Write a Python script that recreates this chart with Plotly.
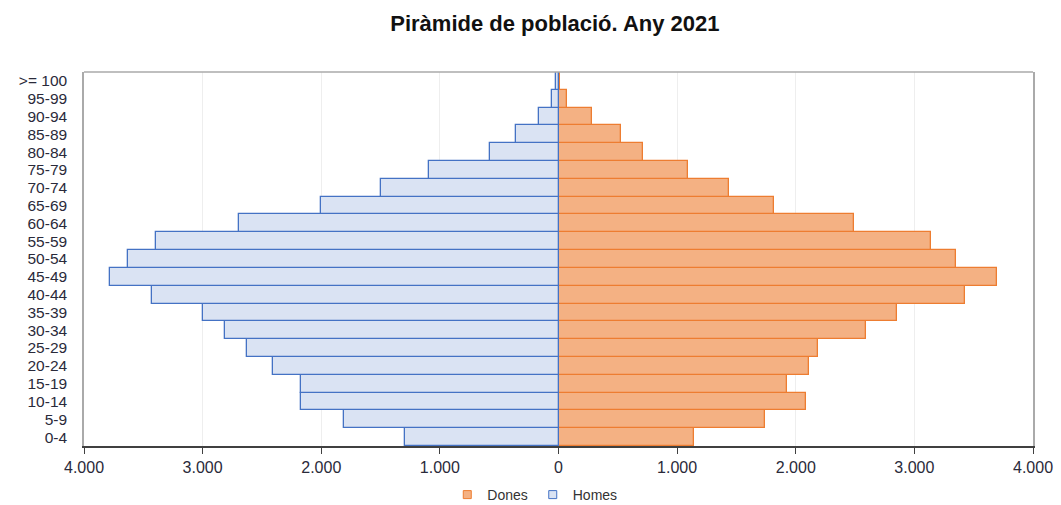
import plotly.graph_objects as go

age_groups = ["0-4", "5-9", "10-14", "15-19", "20-24", "25-29", "30-34", "35-39",
              "40-44", "45-49", "50-54", "55-59", "60-64", "65-69", "70-74", "75-79",
              "80-84", "85-89", "90-94", "95-99", ">= 100"]
homes = [1290, 1810, 2170, 2170, 2410, 2630, 2810, 3000, 3430, 3780, 3630, 3390,
         2690, 2000, 1500, 1090, 580, 360, 165, 55, 18]
dones = [1140, 1740, 2090, 1930, 2110, 2190, 2590, 2850, 3430, 3700, 3350, 3140,
         2490, 1820, 1440, 1090, 710, 530, 285, 72, 15]
tick_vals = [-4000, -3000, -2000, -1000, 0, 1000, 2000, 3000, 4000]
tick_text = ["4.000", "3.000", "2.000", "1.000", "0", "1.000", "2.000", "3.000", "4.000"]

FONT = "Liberation Sans, Arial, sans-serif"
D_FILL, D_LINE = "#F4B183", "#ED7D31"
H_FILL, H_LINE = "#DAE3F3", "#4472C4"

fig = go.Figure()
fig.add_trace(go.Bar(
    y=age_groups, x=dones, orientation="h", name="Dones", showlegend=False,
    marker=dict(color=D_FILL, line=dict(color=D_LINE, width=1.3)),
))
fig.add_trace(go.Bar(
    y=age_groups, x=[-v for v in homes], orientation="h", name="Homes", showlegend=False,
    marker=dict(color=H_FILL, line=dict(color=H_LINE, width=1.3)),
))
# legend entries with small square symbols
fig.add_trace(go.Scatter(x=[None], y=[None], mode="markers", name="Dones",
                         marker=dict(symbol="square", size=8, color=D_FILL,
                                     line=dict(color=D_LINE, width=1))))
fig.add_trace(go.Scatter(x=[None], y=[None], mode="markers", name="Homes",
                         marker=dict(symbol="square", size=8, color=H_FILL,
                                     line=dict(color=H_LINE, width=1))))

fig.update_layout(
    width=1061, height=505,
    barmode="overlay", bargap=0.0,
    paper_bgcolor="white", plot_bgcolor="white",
    margin=dict(l=84, r=28, t=72, b=59, autoexpand=False),
    title=dict(text="<b>Piràmide de població. Any 2021</b>", x=0.523, xanchor="center",
               y=1 - 23 / 505, yanchor="middle",
               font=dict(family=FONT, size=22, color="#111111")),
    font=dict(family=FONT, size=12, color="#222222"),
    legend=dict(orientation="h", x=0.475, xanchor="center",
                yref="container", y=10 / 505, yanchor="middle",
                font=dict(size=14, color="#333333"), traceorder="normal",
                itemwidth=30, tracegroupgap=0),
    showlegend=True,
    xaxis=dict(range=[-4000, 4000], tickvals=tick_vals, ticktext=tick_text,
               showgrid=True, gridcolor="#EEEEEE", gridwidth=1,
               zeroline=False, showline=True, linecolor="#404040", linewidth=1.5,
               ticks="outside", ticklen=6, tickcolor="#404040",
               tickfont=dict(size=16, color="#2a2a3a")),
    yaxis=dict(showgrid=False, zeroline=False, showline=True, linecolor="#AAAAAA",
               linewidth=1.5, mirror=True, ticks="", ticklabelstandoff=12,
               tickmode="array", tickvals=age_groups, ticktext=age_groups,
               tickfont=dict(size=15.5, color="#2a2a3a")),
    shapes=[dict(type="line", xref="paper", yref="paper", x0=0, x1=1, y0=1, y1=1,
                 line=dict(color="#AAAAAA", width=1.5))],
)

fig.write_html("out.html", config={"displayModeBar": False},
               post_script="document.body.style.margin='0';")
